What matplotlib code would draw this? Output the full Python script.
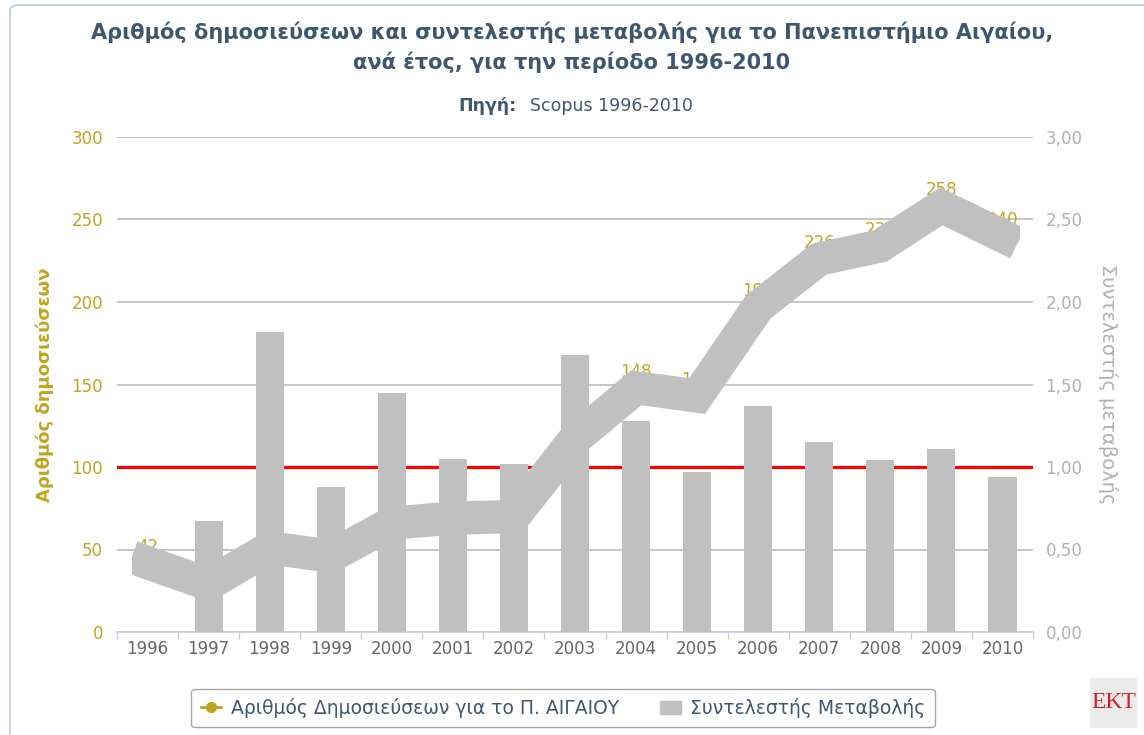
import numpy as np
import matplotlib.pyplot as plt
from matplotlib.lines import Line2D
from matplotlib.patches import Patch, FancyBboxPatch, Rectangle

years = ['1996', '1997', '1998', '1999', '2000', '2001', '2002', '2003',
         '2004', '2005', '2006', '2007', '2008', '2009', '2010']
publications = [42, 29, 51, 46, 66, 69, 70, 117, 148, 143, 197, 226, 234, 258, 240]
change = [np.nan, 0.67, 1.82, 0.88, 1.45, 1.05, 1.02, 1.68, 1.28, 0.97, 1.37, 1.15, 1.04, 1.11, 0.94]
left_ticks = [0, 50, 100, 150, 200, 250, 300]
right_ticks = ['0,00', '0,50', '1,00', '1,50', '2,00', '2,50', '3,00']

gold = '#BFA51F'
grey = '#C0C0C0'
navy = '#3E576F'

W, H = 1144, 735
fig = plt.figure(figsize=(W / 100, H / 100), dpi=100)

# chart border, only the left and top edges fall inside the picture
fig.patches.append(FancyBboxPatch((10 / W, -0.5), 1.5, 1.5 - 5 / H, boxstyle='round,pad=0,rounding_size=0.008',
                                  transform=fig.transFigure, facecolor='none', edgecolor='#A8C4E0',
                                  lw=1, figure=fig))

ax = fig.add_axes([117 / W, 1 - 632 / H, (1033 - 117) / W, (632 - 137) / H])
x = np.arange(len(years))

# left axis: grid, reference line, data labels
ax.set_xlim(-0.5, len(years) - 0.5)
ax.set_ylim(0, 300)
ax.set_yticks(left_ticks)
ax.yaxis.grid(True, color=grey, lw=1.3, zorder=0)
ax.set_axisbelow(True)
ax.axhline(100, color='red', lw=2.3, zorder=1)
for xi, v in zip(x, publications):
    ax.annotate(str(v), (xi, v), xytext=(0, 5), textcoords='offset points',
                ha='center', va='bottom', color=gold, fontsize=12, zorder=2)
ax.tick_params(axis='y', length=0, pad=10, labelcolor=gold, labelsize=12)
ax.set_xticks(x)
ax.set_xticklabels(years)
ax.set_xticks(np.arange(-0.5, len(years), 1), minor=True)
ax.tick_params(axis='x', which='major', length=0, pad=6, labelcolor='#666666', labelsize=12)
ax.tick_params(axis='x', which='minor', length=5, color='#C0D0E0', width=1)
for s in ['left', 'right', 'top']:
    ax.spines[s].set_visible(False)
ax.spines['bottom'].set_color('#C0D0E0')
ax.spines['bottom'].set_linewidth(1.2)

# right axis: bars
ax2 = ax.twinx()
ax2.bar(x, change, width=0.46, color=grey, zorder=2)
ax2.set_ylim(0, 3)
ax2.set_yticks(np.arange(0, 3.01, 0.5))
ax2.set_yticklabels(right_ticks)
ax2.tick_params(axis='y', length=0, pad=9, labelcolor='#B0B0B0', labelsize=12)
for s in ax2.spines.values():
    s.set_visible(False)

# top layer: publications line, ends cut square
ax3 = ax.twinx()
ax3.set_ylim(0, 300)
line, = ax3.plot(x, publications, color=grey, lw=24, solid_capstyle='projecting', solid_joinstyle='miter')
line.set_clip_path(Rectangle((-0.25, -100), len(years) - 1 + 0.54, 500, transform=ax3.transData))
ax3.axis('off')

ax.set_zorder(1)
ax2.set_zorder(2)
ax3.set_zorder(3)

fig.text(0.5, 1 - 47 / H, 'Αριθμός δημοσιεύσεων και συντελεστής μεταβολής για το Πανεπιστήμιο Αιγαίου,\n'
         'ανά έτος, για την περίοδο 1996-2010', ha='center', va='center', fontsize=15,
         fontweight='bold', color=navy, linespacing=1.5)
fig.text(517 / W, 1 - 106 / H, 'Πηγή:', ha='right', va='center', fontsize=12.5,
         fontweight='bold', color=navy)
fig.text(530 / W, 1 - 106 / H, 'Scopus 1996-2010', ha='left', va='center', fontsize=12.5, color=navy)

fig.text(45 / W, 1 - 385 / H, 'Αριθμός δημοσιεύσεων', rotation=90, ha='center', va='center',
         fontsize=13, fontweight='bold', color=gold)
fig.text(1108 / W, 1 - 384 / H, 'Συντελεστής μεταβολής', rotation=270, ha='center', va='center',
         fontsize=14, color='#B0B0B0')

handles = [Line2D([0], [0], color=gold, lw=2, marker='o', markersize=7),
           Patch(facecolor=grey, edgecolor=grey)]
labels = ['Αριθμός Δημοσιεύσεων για το Π. ΑΙΓΑΙΟΥ', 'Συντελεστής Μεταβολής']
leg = fig.legend(handles, labels, loc='center', bbox_to_anchor=(563 / W, 1 - 708 / H), ncol=2,
                 fontsize=13.5, frameon=True, fancybox=True, edgecolor='#909090', handlelength=1.1,
                 columnspacing=2.2, borderpad=0.5, handletextpad=0.5)
leg.get_frame().set_linewidth(1)
for t in leg.get_texts():
    t.set_color(navy)

# EKT logo
fig.patches.append(Rectangle((1090 / W, 1 - 728 / H), 47 / W, 50 / H, transform=fig.transFigure,
                             facecolor='#EBEBEB', edgecolor='none', figure=fig))
fig.text(1113.5 / W, 1 - 703 / H, 'ΕΚΤ', ha='center', va='center', fontsize=17, color='#D02030',
         family='Liberation Serif')

fig.savefig('out.png', dpi=100)
